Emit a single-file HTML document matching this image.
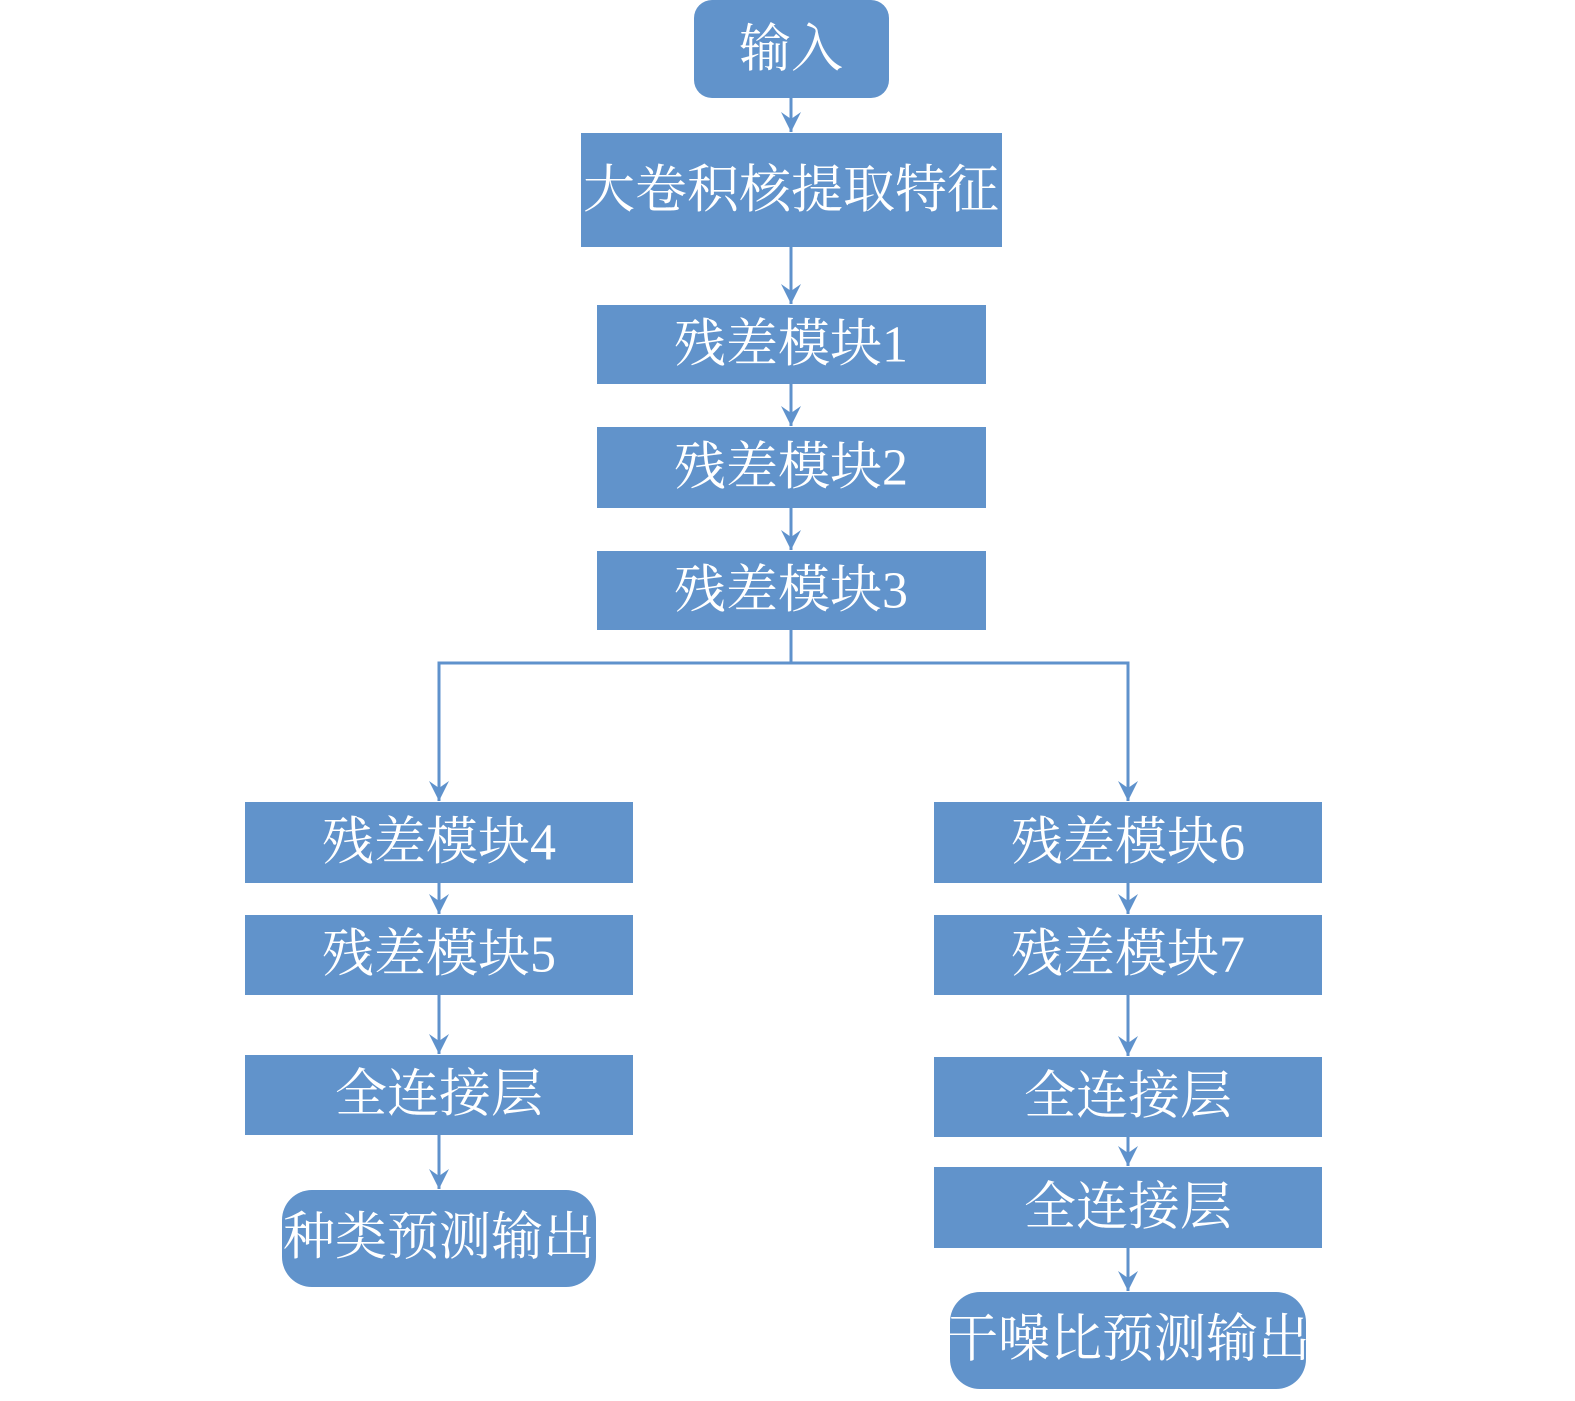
<!DOCTYPE html>
<html><head><meta charset="utf-8"><style>
html,body{margin:0;padding:0;background:#fff;}
text{font-family:"Liberation Serif","Noto Serif CJK SC",serif;fill:#fff;font-size:52px;text-anchor:middle;dominant-baseline:central;}
</style></head><body>
<svg width="1575" height="1396" viewBox="0 0 1575 1396" xmlns="http://www.w3.org/2000/svg">
<defs>
<marker id="b" viewBox="0 0 20 20" refX="20" refY="10" markerWidth="20" markerHeight="20" orient="auto" markerUnits="userSpaceOnUse"><path d="M0,0 L20,10 L0,20 L7,10 Z" fill="#5f92cc"/></marker></defs>
<g stroke="#5f92cc" stroke-width="3" fill="none">
<path d="M791 98V132" marker-end="url(#b)"/>
<path d="M791 247V304" marker-end="url(#b)"/>
<path d="M791 384V426" marker-end="url(#b)"/>
<path d="M791 508V550" marker-end="url(#b)"/>
<path d="M791 630V663H439V801" marker-end="url(#b)"/>
<path d="M791 663H1128V801" marker-end="url(#b)"/>
<path d="M439 883V914" marker-end="url(#b)"/>
<path d="M439 995V1054" marker-end="url(#b)"/>
<path d="M439 1135V1189" marker-end="url(#b)"/>
<path d="M1128 883V914" marker-end="url(#b)"/>
<path d="M1128 995V1056" marker-end="url(#b)"/>
<path d="M1128 1137V1166" marker-end="url(#b)"/>
<path d="M1128 1248V1291" marker-end="url(#b)"/>
</g>
<g fill="#6193cb">
<rect x="694" y="0" width="195" height="98" rx="18"/>
<rect x="581" y="133" width="421" height="114"/>
<rect x="597" y="305" width="389" height="79"/>
<rect x="597" y="427" width="389" height="81"/>
<rect x="597" y="551" width="389" height="79"/>
<rect x="245" y="802" width="388" height="81"/>
<rect x="245" y="915" width="388" height="80"/>
<rect x="245" y="1055" width="388" height="80"/>
<rect x="282" y="1190" width="314" height="97" rx="30"/>
<rect x="934" y="802" width="388" height="81"/>
<rect x="934" y="915" width="388" height="80"/>
<rect x="934" y="1057" width="388" height="80"/>
<rect x="934" y="1167" width="388" height="81"/>
<rect x="950" y="1292" width="356" height="97" rx="30"/>
</g>
<text x="791" y="50">输入</text>
<text x="791" y="191">大卷积核提取特征</text>
<text x="791" y="345">残差模块1</text>
<text x="791" y="468">残差模块2</text>
<text x="791" y="591">残差模块3</text>
<text x="439" y="843">残差模块4</text>
<text x="439" y="955">残差模块5</text>
<text x="439" y="1095">全连接层</text>
<text x="439" y="1238">种类预测输出</text>
<text x="1128" y="843">残差模块6</text>
<text x="1128" y="955">残差模块7</text>
<text x="1128" y="1097">全连接层</text>
<text x="1128" y="1208">全连接层</text>
<text x="1128" y="1340">干噪比预测输出</text>
</svg>
</body></html>
